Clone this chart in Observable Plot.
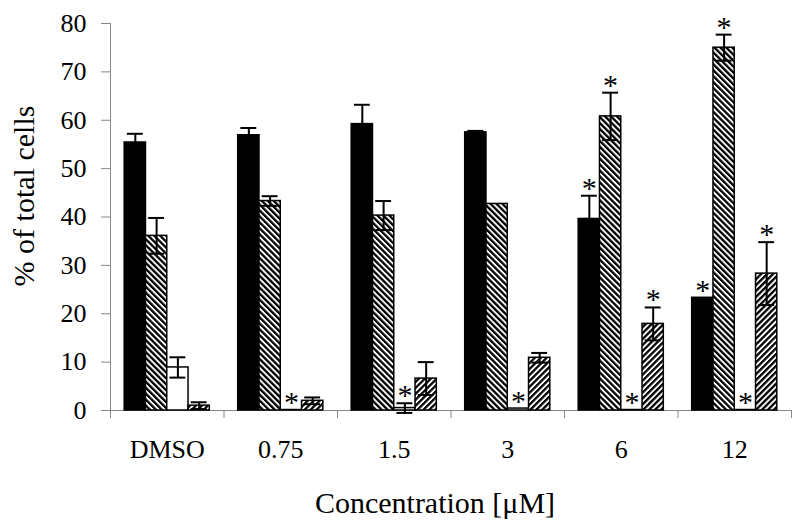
<!DOCTYPE html>
<html><head><meta charset="utf-8">
<script src="https://cdn.jsdelivr.net/npm/d3@7"></script>
<script src="https://cdn.jsdelivr.net/npm/@observablehq/plot@0.6"></script>
<style>body{margin:0;background:#fff;}</style>
</head><body><div id="chart"></div>
<script>
const categories = ["DMSO", "0.75", "1.5", "3", "6", "12"];
const yTicks = [0, 10, 20, 30, 40, 50, 60, 70, 80];
const yTitle = "% of total cells";
const xTitle = "Concentration [\u03bcM]";

// series 1: solid black
const blackValues = [55.4, 56.9, 59.2, 57.5, 39.6, 23.3];
const blackErrors = [1.8, 1.5, 4.0, 0.3, 4.8, 0];
const blackStars  = [0, 0, 0, 0, 1, 1];
// series 2: hatched "\\\\"
const downValues = [36.1, 43.3, 40.3, 42.7, 60.8, 75.0];
const downErrors = [3.7, 1.0, 3.0, 0, 4.9, 2.7];
const downStars  = [0, 0, 0, 0, 1, 1];
// series 3: white
const whiteValues = [8.9, 0.1, 0.5, 0.4, 0.1, 0.1];
const whiteErrors = [2.1, 0, 1.0, 0, 0, 0];
const whiteStars  = [0, 1, 1, 1, 1, 1];
// series 4: hatched "////"
const upValues = [1.0, 2.0, 6.6, 10.9, 17.9, 28.3];
const upErrors = [0.7, 0.7, 3.4, 1.0, 3.4, 6.5];
const upStars  = [0, 0, 0, 0, 1, 1];

const series = [
  {values: blackValues, errors: blackErrors, stars: blackStars, fill: "black"},
  {values: downValues, errors: downErrors, stars: downStars, fill: "url(#hatchDown)"},
  {values: whiteValues, errors: whiteErrors, stars: whiteStars, fill: "white"},
  {values: upValues, errors: upErrors, stars: upStars, fill: "url(#hatchUp)"}
];

const rows = categories.flatMap((c, ci) => series.map((s, si) => ({
  cat: c, ci, si, value: s.values[ci], err: s.errors[ci], star: s.stars[ci]
})));

const groupPad = 0.125, barW = 0.1875, capHalf = 0.07;
const x1 = d => d.ci + groupPad + d.si * barW;
const x2 = d => x1(d) + barW;
const xc = d => x1(d) + barW / 2;
const errRows = rows.filter(d => d.err > 0);
const grey = "#868686";
const font = "'Liberation Serif', 'Times New Roman', serif";

const marks = [
  Plot.ruleY([0], {stroke: grey, strokeWidth: 1}),
  Plot.ruleX([0], {stroke: grey, strokeWidth: 1}),
  Plot.axisY({ticks: yTicks, tickSize: 9, tickPadding: 15, stroke: grey, fill: "black", fontSize: 26, label: null, tickFormat: d => d}),
  Plot.axisX({ticks: d3.range(categories.length + 1), tickSize: 8, stroke: grey, tickFormat: () => "", label: null}),
  Plot.axisX({ticks: categories.map((c, i) => i + 0.5), tickSize: 0, tickPadding: 29, fill: "black", fontSize: 26, tickFormat: v => categories[Math.floor(v)], label: null}),
  ...series.map((s, si) => Plot.rectY(rows.filter(d => d.si === si), {
    x1, x2, y1: 0, y2: "value", fill: s.fill, stroke: "black", strokeWidth: 1.5
  })),
  Plot.ruleX(errRows, {x: xc, y1: d => d.value - d.err, y2: d => d.value + d.err, stroke: "black", strokeWidth: 2}),
  Plot.ruleY(errRows, {y: d => d.value + d.err, x1: d => xc(d) - capHalf, x2: d => xc(d) + capHalf, stroke: "black", strokeWidth: 2}),
  Plot.ruleY(errRows, {y: d => d.value - d.err, x1: d => xc(d) - capHalf, x2: d => xc(d) + capHalf, stroke: "black", strokeWidth: 2}),
  Plot.text(rows.filter(d => d.star), {x: xc, y: d => d.value + d.err, text: () => "*", fontSize: 30, lineAnchor: "bottom", dy: 2, fill: "black"}),
  Plot.text([yTitle], {frameAnchor: "left", textAnchor: "middle", lineAnchor: "middle", rotate: -90, dx: -86, dy: -21, fontSize: 30, fill: "black"}),
  Plot.text([xTitle], {frameAnchor: "bottom", textAnchor: "middle", lineAnchor: "middle", dx: -16, dy: 93, fontSize: 30, fill: "black"})
];

const svg = Plot.plot({
  width: 800,
  height: 525,
  marginLeft: 110,
  marginRight: 9,
  marginTop: 23,
  marginBottom: 115,
  style: {fontFamily: font, background: "white", overflow: "visible"},
  x: {type: "linear", domain: [0, categories.length], axis: null},
  y: {domain: [0, 80], axis: null},
  marks
});

const defs = d3.select(svg).insert("defs", ":first-child");
function hatch(id, angle) {
  const p = defs.append("pattern").attr("id", id)
    .attr("patternUnits", "userSpaceOnUse")
    .attr("width", 4.2).attr("height", 4.2)
    .attr("patternTransform", `rotate(${angle})`);
  p.append("rect").attr("width", 4.2).attr("height", 4.2).attr("fill", "white");
  p.append("rect").attr("width", 2.3).attr("height", 4.2).attr("fill", "black");
}
hatch("hatchDown", -45);
hatch("hatchUp", 45);

document.getElementById("chart").appendChild(svg);
</script>
</body></html>
